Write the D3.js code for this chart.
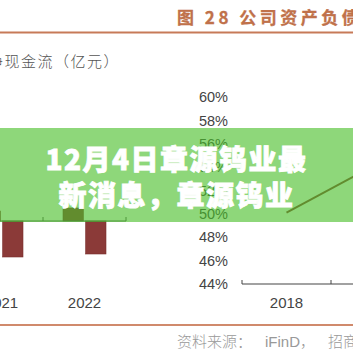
<!DOCTYPE html>
<html>
<head>
<meta charset="utf-8">
<script src="https://cdn.jsdelivr.net/npm/d3@7"></script>
<style>
  body { margin: 0; background: #ffffff; }
  svg { display: block; }
</style>
</head>
<body>
<div id="app"></div>
<script>
/* ********* ********* ********* ********* ********* ********* *********
 * Data
 * ********* ********* ********* ********* ********* ********* ********* */
var flowYears = ["2020", "2021", "2022"];
var flowSeries = ["经营活动", "投资活动"];
var flowIn = [2.2, 1.0, 1.3];
var flowOut = [-2.6, -3.6, -3.3];

var ratioYears = ["2018", "2019"];
var ratioValues = [50.1, 54.2];
var ratioTicks = [44, 46, 48, 50, 52, 54, 56, 58, 60];

var headerText = "图 28 公司资产负债率";
var leftTitle = "净现金流（亿元）";
var sourceParts = ["资料来源：", "iFinD", "，", "招商证券"];
var bannerLines = ["12月4日章源钨业最", "新消息，章源钨业"];

/* ********* ********* ********* ********* ********* ********* *********
 * Setup
 * ********* ********* ********* ********* ********* ********* ********* */
var W = 353, H = 353;
var svg = d3.select("#app").append("svg")
  .attr("width", W)
  .attr("height", H);

svg.append("rect")
  .attr("width", W).attr("height", H)
  .attr("fill", "#ffffff");

var cjk = "'Noto Sans CJK SC', 'Noto Sans', sans-serif";
var latin = "'Liberation Sans', Arial, sans-serif";

/* header + rules */
svg.append("text")
  .attr("x", 177).attr("y", 24)
  .style("font-family", cjk)
  .style("font-size", "17px")
  .style("font-weight", 700)
  .style("letter-spacing", "3.5px")
  .attr("fill", "#c0714a")
  .attr("stroke", "#c0714a")
  .attr("stroke-width", 0.3)
  .text(headerText);

svg.append("rect")
  .attr("x", 0).attr("y", 31.5)
  .attr("width", W).attr("height", 2)
  .attr("fill", "#c77a58");

svg.append("text")
  .attr("x", -12).attr("y", 67)
  .style("font-family", cjk)
  .style("font-size", "15px")
  .style("font-weight", 300)
  .style("letter-spacing", "1.5px")
  .attr("fill", "#555")
  .text(leftTitle);

/* ********* ********* ********* ********* ********* ********* *********
 * Left chart: cash flow bars
 * ********* ********* ********* ********* ********* ********* ********* */
var fx = d3.scaleBand()
  .domain(flowYears)
  .range([126 - 83 * flowYears.length, 126]);

var fx1 = d3.scaleBand()
  .domain(flowSeries)
  .range([20, 63])
  .paddingInner(0.1);

var fy = d3.scaleLinear()
  .domain([-6, 6])
  .range([221 + 60, 221 - 60]);

var flowRows = flowYears.map(function(d, i) {
  return { year: d, values: [flowIn[i], flowOut[i]] };
});

var groups = svg.append("g").attr("class", "flow")
  .selectAll("g")
  .data(flowRows)
  .enter().append("g")
    .attr("transform", function(d) { return "translate(" + fx(d.year) + ",0)"; });

groups.selectAll("rect")
  .data(function(d) {
    return d.values.map(function(v, j) { return { key: flowSeries[j], value: v }; });
  })
  .enter().append("rect")
    .attr("x", function(d) { return fx1(d.key); })
    .attr("width", fx1.bandwidth())
    .attr("y", function(d) { return fy(Math.max(0, d.value)); })
    .attr("height", function(d) { return Math.abs(fy(d.value) - fy(0)); })
    .attr("fill", "#8b3a38")
    .attr("stroke", "#7a2f2d")
    .attr("stroke-width", 0.6);

var fAxis = svg.append("g").attr("class", "flow-axis");
fAxis.append("line")
  .attr("x1", fx.range()[0]).attr("x2", 126)
  .attr("y1", fy(0)).attr("y2", fy(0))
  .attr("stroke", "#555").attr("stroke-width", 1);
fAxis.selectAll("line.tick")
  .data(flowYears)
  .enter().append("line")
    .attr("class", "tick")
    .attr("x1", function(d) { return fx(d) + fx.bandwidth(); })
    .attr("x2", function(d) { return fx(d) + fx.bandwidth(); })
    .attr("y1", fy(0)).attr("y2", fy(0) - 4)
    .attr("stroke", "#555");
fAxis.selectAll("text")
  .data(flowYears)
  .enter().append("text")
    .attr("x", function(d) { return fx(d) + fx.bandwidth() / 2; })
    .attr("y", 308)
    .attr("text-anchor", "middle")
    .style("font-family", latin)
    .style("font-size", "15px")
    .attr("fill", "#444")
    .text(function(d) { return d; });

/* ********* ********* ********* ********* ********* ********* *********
 * Right chart: asset-liability ratio line
 * ********* ********* ********* ********* ********* ********* ********* */
var rx = d3.scaleBand()
  .domain(ratioYears)
  .range([242, 242 + 89 * ratioYears.length]);

var ry = d3.scaleLinear()
  .domain([44, 60])
  .range([284, 97]);

svg.append("g").selectAll("text")
  .data(ratioTicks)
  .enter().append("text")
    .attr("x", 228)
    .attr("y", function(d) { return ry(d); })
    .attr("dy", "0.36em")
    .attr("text-anchor", "end")
    .style("font-family", latin)
    .style("font-size", "14.5px")
    .attr("fill", "#444")
    .text(function(d) { return d + "%"; });

var rAxis = svg.append("g").attr("class", "ratio-axis");
rAxis.append("line")
  .attr("x1", 242).attr("x2", rx.range()[1])
  .attr("y1", ry(44)).attr("y2", ry(44))
  .attr("stroke", "#444").attr("stroke-width", 1.2);
rAxis.selectAll("line.tick")
  .data([242].concat(ratioYears.map(function(d) { return rx(d) + rx.bandwidth(); })))
  .enter().append("line")
    .attr("class", "tick")
    .attr("x1", function(d) { return d; })
    .attr("x2", function(d) { return d; })
    .attr("y1", ry(44)).attr("y2", ry(44) - 4)
    .attr("stroke", "#444");
rAxis.selectAll("text")
  .data(ratioYears)
  .enter().append("text")
    .attr("x", function(d) { return rx(d) + rx.bandwidth() / 2; })
    .attr("y", 308)
    .attr("text-anchor", "middle")
    .style("font-family", latin)
    .style("font-size", "15px")
    .attr("fill", "#444")
    .text(function(d) { return d; });

var line = d3.line()
  .x(function(d, i) { return rx(ratioYears[i]) + rx.bandwidth() / 2; })
  .y(function(d) { return ry(d); });

svg.append("path")
  .datum(ratioValues)
  .attr("d", line)
  .attr("fill", "none")
  .attr("stroke", "#8b3a38")
  .attr("stroke-width", 2);

/* bottom rule + source */
svg.append("rect")
  .attr("x", 0).attr("y", 324)
  .attr("width", W).attr("height", 2)
  .attr("fill", "#d08a6c");

var src = svg.append("text")
  .attr("y", 347)
  .style("font-size", "15px")
  .attr("fill", "#999");
src.append("tspan").attr("x", 177)
  .style("font-family", cjk).style("font-weight", 300)
  .text(sourceParts[0]);
src.append("tspan").attr("x", 265)
  .style("font-family", latin)
  .text(sourceParts[1]);
src.append("tspan")
  .style("font-family", cjk).style("font-weight", 300)
  .text(sourceParts[2]);
src.append("tspan").attr("x", 328)
  .style("font-family", cjk).style("font-weight", 300)
  .text(sourceParts[3]);

/* ********* ********* ********* ********* ********* ********* *********
 * Banner overlay
 * ********* ********* ********* ********* ********* ********* ********* */
svg.append("rect")
  .attr("x", 0).attr("y", 128)
  .attr("width", W).attr("height", 94)
  .attr("fill", "rgb(72,190,40)")
  .attr("fill-opacity", 0.62);

svg.append("g").selectAll("text")
  .data(bannerLines)
  .enter().append("text")
    .attr("x", W / 2)
    .attr("y", function(d, i) { return 170 + i * 36; })
    .attr("text-anchor", "middle")
    .style("font-family", cjk)
    .style("font-size", "28px")
    .style("font-weight", 900)
    .style("letter-spacing", "1.5px")
    .attr("fill", "#ffffff")
    .attr("stroke", "#ffffff")
    .attr("stroke-width", 0.8)
    .text(function(d) { return d; });
</script>
</body>
</html>
